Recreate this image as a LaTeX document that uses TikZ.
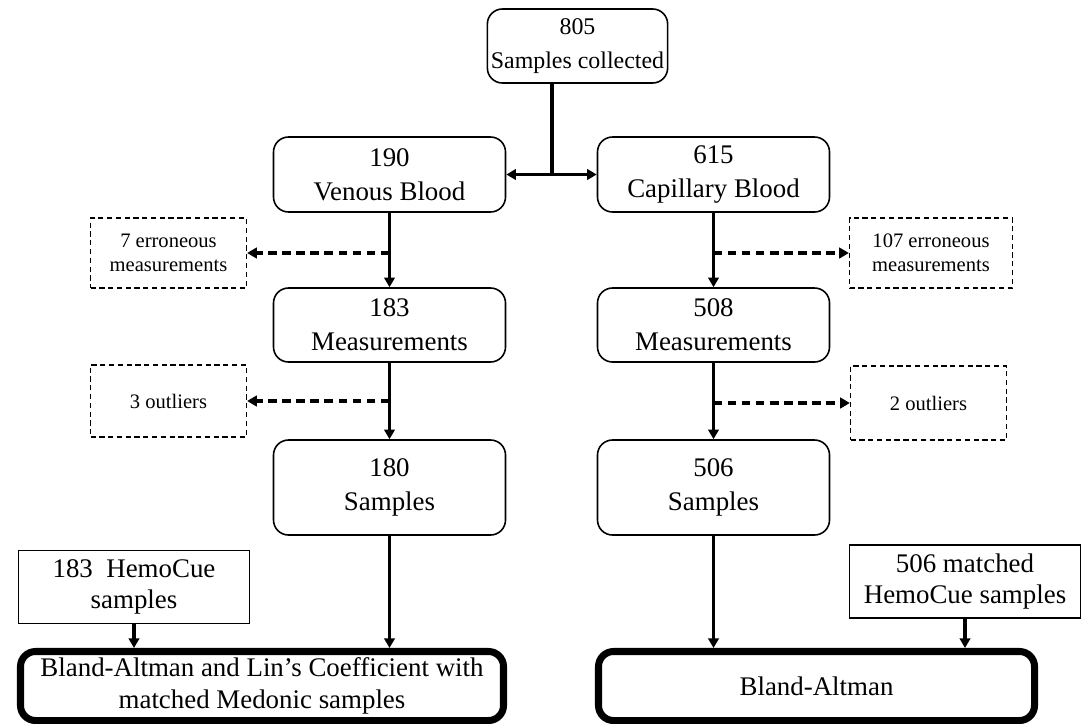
\documentclass[tikz,border=0pt]{standalone}
\usepackage{fontspec}
\setmainfont{Liberation Serif}
\usetikzlibrary{arrows.meta}
\tikzstyle{stage}=[draw=black,line width=0.9pt,rounded corners=0.3cm,inner sep=2pt,minimum width=4.64cm,minimum height=1.46cm,align=center,font=\fontsize{15.3}{19.5}\selectfont]
\tikzstyle{dropped}=[draw=black,line width=0.7pt,dash pattern=on 3pt off 2pt,minimum width=3.12cm,minimum height=1.4cm,align=center,font=\fontsize{11.7}{13.8}\selectfont]
\tikzstyle{hemo}=[draw=black,line width=0.8pt,inner sep=2pt,minimum width=4.62cm,minimum height=1.46cm,align=center,font=\fontsize{15.3}{18}\selectfont]
\tikzstyle{result}=[draw=black,line width=4pt,rounded corners=0.3cm,minimum height=1.38cm,align=center,font=\fontsize{15.3}{18}\selectfont]
\tikzstyle{flow}=[line width=2pt,-{Triangle[length=5.5pt,width=6pt]}]
\tikzstyle{drop}=[line width=2pt,dash pattern=on 5pt off 3pt,-{Triangle[length=5.5pt,width=6pt]}]

\begin{document}
\begin{tikzpicture}
    \useasboundingbox (0,0) rectangle (21.72,-14.46);

    \node (collected) at (11.55,-0.92) [stage, minimum width=3.6cm, minimum height=1.48cm, font=\fontsize{13.6}{19}\selectfont] {805\\Samples collected};
    \node (venous)    at (7.79,-3.49)  [stage, minimum height=1.5cm] {190\\Venous Blood};
    \node (capillary) at (14.27,-3.49) [stage, minimum height=1.5cm] {615\\Capillary Blood};

    \node (errven) at (3.37,-5.06)  [dropped] {7 erroneous\\measurements};
    \node (errcap) at (18.62,-5.06) [dropped, minimum width=3.26cm] {107 erroneous\\measurements};

    \node (measven) at (7.79,-6.5)  [stage, minimum height=1.48cm] {183\\Measurements};
    \node (meascap) at (14.27,-6.5) [stage, minimum height=1.48cm] {508\\Measurements};

    \node (outven) at (3.37,-8.02)  [dropped, minimum height=1.44cm] {3 outliers};
    \node (outcap) at (18.57,-8.06) [dropped, minimum height=1.48cm] {2 outliers};

    \node (sampven) at (7.79,-9.75)  [stage, minimum height=1.9cm] {180\\Samples};
    \node (sampcap) at (14.27,-9.75) [stage, minimum height=1.9cm] {506\\Samples};

    \node (hemoven) at (2.68,-11.74) [hemo] {183~ HemoCue\\samples};
    \node (hemocap) at (19.3,-11.63) [hemo] {506 matched\\HemoCue samples};

    \node (linven) at (5.24,-13.72)  [result, minimum width=9.66cm] {Bland-Altman and Lin's Coefficient with\\matched Medonic samples};
    \node (blandcap) at (16.33,-13.72) [result, minimum width=8.72cm] {Bland-Altman};

    \coordinate (fork) at (11.04,-3.49);
    \draw (collected.south -| fork) -- (fork) [line width=2pt];
    \draw (fork) -- (venous.east) [flow];
    \draw (fork) -- (capillary.west) [flow];

    \draw (venous.south) -- (measven.north) [flow];
    \draw (capillary.south) -- (meascap.north) [flow];
    \draw (venous.south |- errven.east) -- (errven.east) [drop];
    \draw (capillary.south |- errcap.west) -- (errcap.west) [drop];

    \draw (measven.south) -- (sampven.north) [flow];
    \draw (meascap.south) -- (sampcap.north) [flow];
    \draw (measven.south |- outven.east) -- (outven.east) [drop];
    \draw (meascap.south |- outcap.west) -- (outcap.west) [drop];

    \draw (sampven.south) -- (sampven.south |- linven.north) [flow];
    \draw (hemoven.south) -- (hemoven.south |- linven.north) [flow];
    \draw (sampcap.south) -- (sampcap.south |- blandcap.north) [flow];
    \draw (hemocap.south) -- (hemocap.south |- blandcap.north) [flow];
  \end{tikzpicture}
\end{document}
